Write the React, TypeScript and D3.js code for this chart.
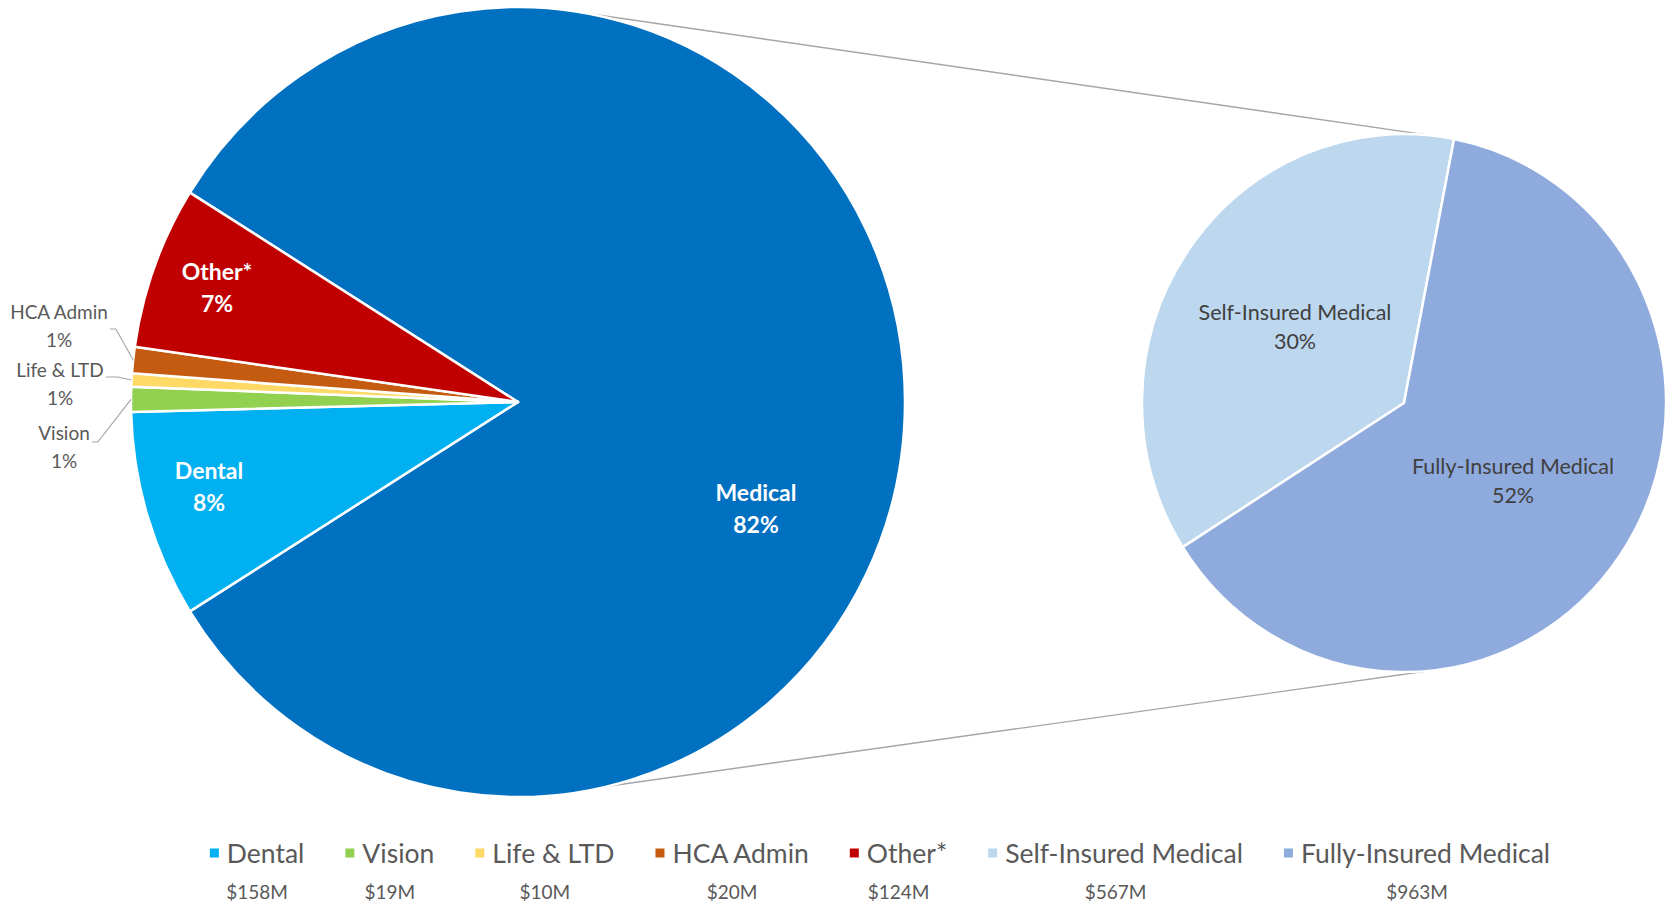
import { useEffect, useRef } from 'react';
import * as d3 from 'd3';

const W = 1671;
const H = 905;

// split-off part of Medical (drawn in the secondary pie)
const splitNames = ['Self-Insured Medical', 'Fully-Insured Medical'];
const splitValues = [567, 963];

// the rest of the main pie (Medical = sum of the split)
const mainNames = ['Dental', 'Vision', 'Life & LTD', 'HCA Admin', 'Other*'];
const mainValues = [158, 19, 10, 20, 124];

const legendNames = [...mainNames, ...splitNames];
const legendValues = ['$158M', '$19M', '$10M', '$20M', '$124M', '$567M', '$963M'];

const colors: Record<string, string> = {
  Medical: '#0070C0',
  Dental: '#00B0F0',
  Vision: '#92D050',
  'Life & LTD': '#FFD966',
  'HCA Admin': '#C55A11',
  'Other*': '#C00000',
  'Self-Insured Medical': '#BDD7EE',
  'Fully-Insured Medical': '#8FAADC',
};

// label placement (layout only)
const bigLabels: Record<string, { x: number; y: number }> = {
  Medical: { x: 756, y: 492 },
  Dental: { x: 209, y: 470 },
  'Other*': { x: 217, y: 271 },
};
const smallLabels: Record<string, { x: number; y: number; ly: number; elbow: number }> = {
  'HCA Admin': { x: 59, y: 311, ly: 329, elbow: 6 },
  'Life & LTD': { x: 60, y: 369, ly: 377, elbow: 12 },
  Vision: { x: 64, y: 432, ly: 442, elbow: 6 },
};
const splitLabels: Record<string, { x: number; y: number }> = {
  'Self-Insured Medical': { x: 1295, y: 312 },
  'Fully-Insured Medical': { x: 1513, y: 466 },
};

const FONT = 'Lato, "Open Sans", sans-serif';
const deg = Math.PI / 180;

export default function App() {
  const svgRef = useRef<SVGSVGElement>(null);

  useEffect(() => {
    document.body.style.margin = '0';
    if (!svgRef.current) return;
    const svg = d3.select(svgRef.current);
    svg.selectAll('*').remove();

    const total = d3.sum(mainValues) + d3.sum(splitValues);
    const pct = (v: number) => `${Math.round((v / total) * 100)}%`;
    const medical = d3.sum(splitValues);

    const main = { cx: 518, cy: 402, rx: 387, ry: 395 };
    const sec = { cx: 1404, cy: 403, rx: 262, ry: 269 };
    const onEllipse = (e: typeof main, a: number): [number, number] => [
      e.cx + e.rx * Math.sin(a),
      e.cy - e.ry * Math.cos(a),
    ];

    svg.append('rect').attr('width', W).attr('height', H).attr('fill', '#fff');

    // connector lines between the pies
    const connectors = [
      [10.4, 5.3],
      [166.6, 174.5],
    ];
    connectors.forEach(([a1, a2]) => {
      const p1 = onEllipse(main, a1 * deg);
      const p2 = onEllipse(sec, a2 * deg);
      svg.append('line')
        .attr('x1', p1[0]).attr('y1', p1[1])
        .attr('x2', p2[0]).attr('y2', p2[1])
        .attr('stroke', '#a6a6a6')
        .attr('stroke-width', 1.4);
    });

    // main pie
    const mainData = [{ name: 'Medical', value: medical }, ...mainNames.map((n, i) => ({ name: n, value: mainValues[i] }))];
    const medAngle = (medical / total) * 2 * Math.PI;
    const start = Math.PI / 2 - medAngle / 2;
    const mainPie = d3.pie<typeof mainData[0]>()
      .sort(null)
      .value(d => d.value)
      .startAngle(start)
      .endAngle(start + 2 * Math.PI);
    const mainArcs = mainPie(mainData);
    const mainArc = d3.arc<d3.PieArcDatum<typeof mainData[0]>>().innerRadius(0).outerRadius(main.rx);

    svg.append('g')
      .attr('transform', `translate(${main.cx},${main.cy}) scale(1,${main.ry / main.rx})`)
      .selectAll('path')
      .data(mainArcs)
      .join('path')
      .attr('d', mainArc)
      .attr('fill', d => colors[d.data.name])
      .attr('stroke', '#fff')
      .attr('stroke-width', 2.5)
      .attr('stroke-linejoin', 'round')
      .attr('vector-effect', 'non-scaling-stroke');

    // secondary pie
    const splitData = splitNames.map((n, i) => ({ name: n, value: splitValues[i] }));
    const secStart = -122.4 * deg;
    const secPie = d3.pie<typeof splitData[0]>()
      .sort(null)
      .value(d => d.value)
      .startAngle(secStart)
      .endAngle(secStart + 2 * Math.PI);
    const secArc = d3.arc<d3.PieArcDatum<typeof splitData[0]>>().innerRadius(0).outerRadius(sec.rx);

    svg.append('g')
      .attr('transform', `translate(${sec.cx},${sec.cy}) scale(1,${sec.ry / sec.rx})`)
      .selectAll('path')
      .data(secPie(splitData))
      .join('path')
      .attr('d', secArc)
      .attr('fill', d => colors[d.data.name])
      .attr('stroke', '#fff')
      .attr('stroke-width', 2.5)
      .attr('stroke-linejoin', 'round')
      .attr('vector-effect', 'non-scaling-stroke');

    // bold white labels inside the main pie
    mainData.forEach(d => {
      const p = bigLabels[d.name];
      if (!p) return;
      const t = svg.append('text')
        .attr('text-anchor', 'middle')
        .attr('fill', '#fff')
        .attr('font-family', FONT)
        .attr('font-weight', 'bold')
        .attr('font-size', 23);
      t.append('tspan').attr('x', p.x).attr('y', p.y).attr('dominant-baseline', 'central').text(d.name);
      t.append('tspan').attr('x', p.x).attr('y', p.y + 32).attr('dominant-baseline', 'central').text(pct(d.value));
    });

    // small outside labels with leader lines
    mainArcs.forEach(a => {
      const p = smallLabels[a.data.name];
      if (!p) return;
      const t = svg.append('text')
        .attr('text-anchor', 'middle')
        .attr('fill', '#595959')
        .attr('font-family', FONT)
        .attr('font-size', 19);
      const l1 = t.append('tspan').attr('x', p.x).attr('y', p.y).attr('dominant-baseline', 'central').text(a.data.name);
      t.append('tspan').attr('x', p.x).attr('y', p.y + 28).attr('dominant-baseline', 'central').text(pct(a.data.value));
      const w = (l1.node() as SVGTSpanElement).getComputedTextLength();
      const x0 = p.x + w / 2 + 2;
      const mid = (a.startAngle + a.endAngle) / 2;
      const end = onEllipse(main, mid);
      svg.append('polyline')
        .attr('points', `${x0},${p.ly} ${x0 + p.elbow},${p.ly} ${end[0]},${end[1]}`)
        .attr('fill', 'none')
        .attr('stroke', '#a6a6a6')
        .attr('stroke-width', 1.2);
    });

    // secondary pie labels
    splitData.forEach(d => {
      const p = splitLabels[d.name];
      const t = svg.append('text')
        .attr('text-anchor', 'middle')
        .attr('fill', '#404040')
        .attr('font-family', FONT)
        .attr('font-size', 21.5);
      t.append('tspan').attr('x', p.x).attr('y', p.y).attr('dominant-baseline', 'central').text(d.name);
      t.append('tspan').attr('x', p.x).attr('y', p.y + 29).attr('dominant-baseline', 'central').text(pct(d.value));
    });

    // legend
    const legendY = 853;
    const valueY = 891;
    const marker = 9;
    const markerGap = 8;
    const itemGap = 41;
    const legendCenter = 880;
    const lg = svg.append('g');
    const items = legendNames.map(n => {
      const t = lg.append('text')
        .attr('fill', '#595959')
        .attr('font-family', FONT)
        .attr('font-size', 26.5)
        .attr('dominant-baseline', 'central')
        .attr('y', legendY)
        .text(n);
      const w = (t.node() as SVGTextElement).getComputedTextLength();
      return { name: n, t, w: marker + markerGap + w };
    });
    const totalW = d3.sum(items, d => d.w) + itemGap * (items.length - 1);
    let x = legendCenter - totalW / 2;
    items.forEach((it, i) => {
      lg.append('rect')
        .attr('x', x)
        .attr('y', legendY - marker / 2)
        .attr('width', marker)
        .attr('height', marker)
        .attr('fill', colors[it.name]);
      it.t.attr('x', x + marker + markerGap);
      lg.append('text')
        .attr('x', x + it.w / 2)
        .attr('y', valueY)
        .attr('text-anchor', 'middle')
        .attr('dominant-baseline', 'central')
        .attr('fill', '#595959')
        .attr('font-family', FONT)
        .attr('font-size', 19)
        .text(legendValues[i]);
      x += it.w + itemGap;
    });
  }, []);

  return <svg ref={svgRef} width={W} height={H} style={{ display: 'block' }} />;
}
